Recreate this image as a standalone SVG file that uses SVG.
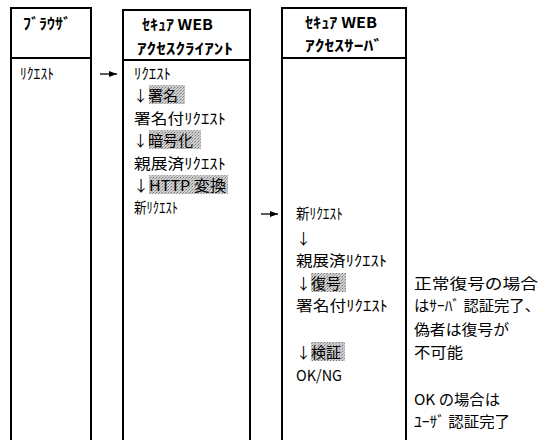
<svg xmlns="http://www.w3.org/2000/svg" width="547" height="440" viewBox="0 0 547 440">
<defs>
<pattern id="dots" width="3" height="3" patternUnits="userSpaceOnUse">
<rect width="3" height="3" fill="#cfcfcf"/>
<rect width="1" height="1" fill="#7a7a7a"/>
<rect x="2" y="1" width="1" height="1" fill="#9a9a9a"/>
<rect x="1" y="2" width="1" height="1" fill="#b0b0b0"/>
</pattern>
<marker id="ah" viewBox="0 0 8 6" refX="8" refY="3" markerWidth="8" markerHeight="6" markerUnits="userSpaceOnUse" orient="auto">
<path d="M0,0 L8,3 L0,6 z" fill="#000"/>
</marker>
</defs>
<style>
.box{fill:#fff;stroke:#000;stroke-width:2}
.div{stroke:#000;stroke-width:2}
.hd{font-family:"Noto Sans CJK JP","Noto Sans",sans-serif;font-size:15px;font-weight:bold;fill:#000}
.t{font-family:"Noto Sans CJK JP","Noto Sans",sans-serif;font-size:15px;fill:#000}
.hl{fill:url(#dots)}
.c{font-family:"Noto Sans CJK JP",serif;font-size:15px;fill:#000}
.cn{stroke:#000;stroke-width:1.3;fill:none;marker-end:url(#ah)}
</style>
<rect width="547" height="440" fill="#fff"/>
<g id="browser">
<rect class="box" x="11" y="8" width="80" height="440"/>
<line class="div" x1="11" y1="58" x2="91" y2="58"/>
<text class="hd" x="23" y="29" textLength="48" lengthAdjust="spacingAndGlyphs">ﾌﾞﾗｳｻﾞ</text>
<text class="t" x="20" y="79" textLength="34" lengthAdjust="spacingAndGlyphs">ﾘｸｴｽﾄ</text>
</g>
<g id="client">
<rect class="box" x="123" y="10" width="127" height="440"/>
<line class="div" x1="123" y1="60" x2="250" y2="60"/>
<text class="hd" x="142" y="30" textLength="71" lengthAdjust="spacingAndGlyphs">ｾｷｭｱ WEB</text>
<text class="hd" x="137" y="54" textLength="96" lengthAdjust="spacingAndGlyphs">ｱｸｾｽｸﾗｲｱﾝﾄ</text>
<text class="t" x="134" y="79" textLength="37" lengthAdjust="spacingAndGlyphs">ﾘｸｴｽﾄ</text>
<rect class="hl" x="149" y="85" width="36" height="19"/>
<text class="t" x="133" y="101">↓署名</text>
<text class="t" x="134" y="124" textLength="92" lengthAdjust="spacingAndGlyphs">署名付ﾘｸｴｽﾄ</text>
<rect class="hl" x="149" y="130" width="52" height="19"/>
<text class="t" x="133" y="146">↓暗号化</text>
<text class="t" x="134" y="169" textLength="92" lengthAdjust="spacingAndGlyphs">親展済ﾘｸｴｽﾄ</text>
<rect class="hl" x="149" y="175" width="79" height="19"/>
<text class="t" x="133" y="191" textLength="93" lengthAdjust="spacingAndGlyphs">↓HTTP 変換</text>
<text class="t" x="134" y="213" textLength="44" lengthAdjust="spacingAndGlyphs">新ﾘｸｴｽﾄ</text>
</g>
<g id="server">
<rect class="box" x="282" y="8" width="124" height="440"/>
<line class="div" x1="282" y1="58" x2="406" y2="58"/>
<text class="hd" x="305" y="28" textLength="72" lengthAdjust="spacingAndGlyphs">ｾｷｭｱ WEB</text>
<text class="hd" x="305" y="51" textLength="78" lengthAdjust="spacingAndGlyphs">ｱｸｾｽｻｰﾊﾞ</text>
<text class="t" x="296" y="219" textLength="47" lengthAdjust="spacingAndGlyphs">新ﾘｸｴｽﾄ</text>
<text class="t" x="296" y="244">↓</text>
<text class="t" x="296" y="266" textLength="91" lengthAdjust="spacingAndGlyphs">親展済ﾘｸｴｽﾄ</text>
<rect class="hl" x="311" y="273" width="35" height="19"/>
<text class="t" x="296" y="289">↓復号</text>
<text class="t" x="296" y="311" textLength="92" lengthAdjust="spacingAndGlyphs">署名付ﾘｸｴｽﾄ</text>
<rect class="hl" x="311" y="342" width="34" height="19"/>
<text class="t" x="296" y="358">↓検証</text>
<text class="t" x="296" y="381" textLength="46" lengthAdjust="spacingAndGlyphs">OK/NG</text>
</g>
<g id="notes">
<text class="c" x="414" y="289" textLength="124" lengthAdjust="spacingAndGlyphs">正常復号の場合</text>
<text class="c" x="414" y="311" textLength="126" lengthAdjust="spacingAndGlyphs">はｻｰﾊﾞ 認証完了、</text>
<text class="c" x="414" y="335" textLength="95" lengthAdjust="spacingAndGlyphs">偽者は復号が</text>
<text class="c" x="414" y="358" textLength="49" lengthAdjust="spacingAndGlyphs">不可能</text>
<text class="c" x="414" y="405" textLength="86" lengthAdjust="spacingAndGlyphs">OK の場合は</text>
<text class="c" x="414" y="427" textLength="96" lengthAdjust="spacingAndGlyphs">ﾕｰｻﾞ 認証完了</text>
</g>
<g id="connectors">
<line class="cn" x1="100" y1="74" x2="117" y2="74"/>
<line class="cn" x1="261" y1="214" x2="278" y2="214"/>
</g>
</svg>
